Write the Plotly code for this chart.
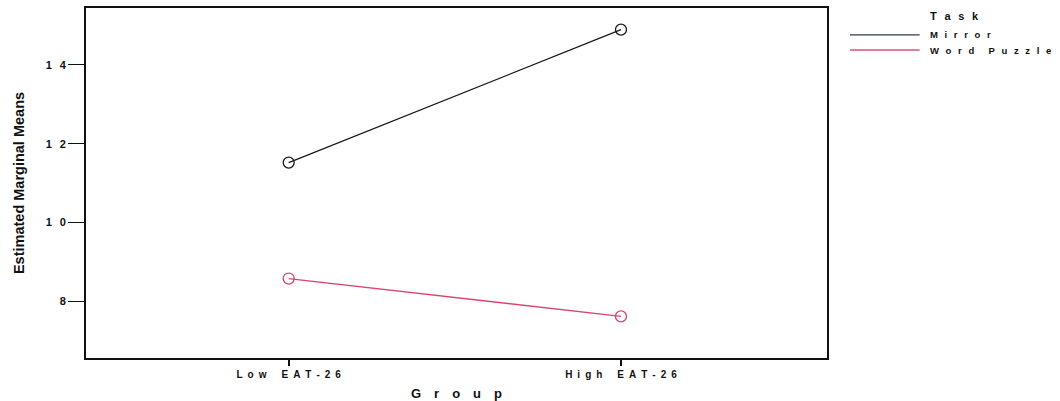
import plotly.graph_objects as go

groups = ["Low EAT-26", "High EAT-26"]
mirror = [11.52, 14.89]
word_puzzle = [8.58, 7.62]
ytick_vals = [8, 10, 12, 14]
ytick_labels = ["8", "10", "12", "14"]
series_names = ["Mirror", "Word Puzzle"]
legend_title = "Task"
x_title = "Group"
y_title = "Estimated Marginal Means"
line_colors = ["#1a1a1a", "#d8446e"]
legend_colors = ["#2e3a52", "#d8507a"]

EN = "\u2002"
EM = "\u2003"
TH = "\u2009"


def spaced(s, gap=EN, word=EM + EN):
    return word.join(gap.join(list(w)) for w in s.split(" "))


fig = go.Figure()
for name, vals, col in zip(series_names, [mirror, word_puzzle], line_colors):
    fig.add_trace(go.Scatter(
        x=[0, 1], y=vals, mode="lines+markers", name=name, showlegend=False,
        line=dict(color=col, width=1.3),
        marker=dict(symbol="circle-open", size=11, color=col, line=dict(width=1.3, color=col)),
    ))

# legend drawn next to plot (lines + labels)
lx0, lx1, ltx = 1.031, 1.125, 1.136
ly = [0.923, 0.880]
fig.add_annotation(xref="paper", yref="paper", x=ltx, y=0.978, xanchor="left", yanchor="middle",
                   text="<b>" + spaced(legend_title, gap=EN + TH) + "</b>", showarrow=False,
                   font=dict(size=11, color="#111"))
for name, col, yy in zip(series_names, legend_colors, ly):
    fig.add_shape(type="line", xref="paper", yref="paper", x0=lx0, x1=lx1, y0=yy, y1=yy,
                  line=dict(color=col, width=1.3))
    fig.add_annotation(xref="paper", yref="paper", x=ltx, y=yy, xanchor="left", yanchor="middle",
                       text="<b>" + spaced(name, gap=EN + TH) + "</b>", showarrow=False,
                       font=dict(size=9.5, color="#111"))

axis_font = dict(family="Liberation Sans, Arial", size=10, color="#111")
fig.update_layout(
    width=1060, height=401,
    margin=dict(l=86, r=233, t=8, b=43),
    plot_bgcolor="white", paper_bgcolor="white",
    font=dict(family="Liberation Sans, Arial", color="#111"),
    showlegend=False,
    xaxis=dict(
        range=[-0.61, 1.62], tickvals=[0, 1], automargin=False,
        ticktext=["<b>" + spaced(g) + "</b>" for g in groups],
        showline=True, linecolor="#111", linewidth=2, mirror=True,
        ticks="outside", ticklen=6, tickwidth=2, tickcolor="#111",
        showgrid=False, zeroline=False, tickfont=axis_font,
        title=dict(text="<b>" + spaced(x_title, gap=EN + EN) + "</b>", font=dict(size=13), standoff=12),
    ),
    yaxis=dict(
        range=[6.565, 15.44], tickvals=ytick_vals, automargin=False,
        ticktext=["<b>" + spaced(t, gap=EN + TH) + "</b>" for t in ytick_labels],
        showline=True, linecolor="#111", linewidth=2, mirror=True,
        ticks="outside", ticklen=16, tickwidth=1, tickcolor="#111",
        showgrid=False, zeroline=False, tickfont=dict(family="Liberation Sans, Arial", size=11, color="#111"),
        title=dict(text="<b>" + y_title + "</b>", font=dict(size=14.5), standoff=18),
    ),
)

fig.write_html("out.html", config={"displayModeBar": False},
               post_script="document.body.style.margin='0';")
